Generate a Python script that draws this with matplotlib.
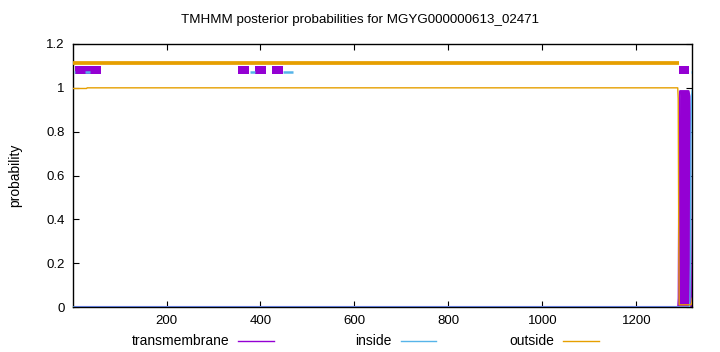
import matplotlib
matplotlib.use('Agg')
import matplotlib.pyplot as plt
from matplotlib.lines import Line2D
from matplotlib.patches import Rectangle
from matplotlib.ticker import FixedLocator, FuncFormatter

plt.rcParams['font.family'] = ['Liberation Sans', 'DejaVu Sans']

title = "TMHMM posterior probabilities for MGYG000000613_02471"
seq_len = 1319

# predicted topology (bars drawn above the curves)
tm_segments = [(6, 33), (33, 60), (353, 376), (389, 411), (425, 447), (1291, 1313)]
inside_segments = [(4, 6), (27, 38), (377, 388), (448, 469), (1316, 1319)]
outside_segments = [(1, 1290)]

# posterior probability curves
out_x = [1, 30, 31, 1288, 1289, 1290, 1291, 1316, 1318, 1319]
out_p = [0.997, 0.997, 1.0, 1.0, 0.95, 0.40, 0.01, 0.01, 0.02, 0.04]
tm_x = [1, 1289, 1290, 1291, 1292, 1293, 1311, 1313, 1314, 1315, 1316, 1319]
tm_p = [0.0, 0.0, 0.04, 0.55, 0.95, 0.985, 0.985, 0.96, 0.85, 0.35, 0.02, 0.0]
in_x = [1, 1313, 1314, 1315, 1316, 1317, 1319]
in_p = [0.0, 0.0, 0.03, 0.2, 0.75, 0.96, 0.99]

labels = ["transmembrane", "inside", "outside"]
colors = ["#9400d3", "#56b4e9", "#e69f00"]

fig = plt.figure(figsize=(7.2, 3.52), dpi=100)
ax = fig.add_axes([73 / 720, 45 / 352, (692.3 - 73) / 720, (307 - 44) / 352])

# posterior curves
ax.fill_between(tm_x, 0, tm_p, color=colors[0], lw=0, zorder=2)
ax.plot(tm_x, tm_p, color=colors[0], lw=1.5, zorder=2)
ax.plot(in_x, in_p, color=colors[1], lw=1, zorder=3)
ax.plot(out_x, out_p, color=colors[2], lw=1, zorder=4)

# topology bars
for a, b in tm_segments:
    ax.add_patch(Rectangle((a, 1.065), b - a, 0.036, facecolor=colors[0],
                           edgecolor='none', zorder=5))
for a, b in inside_segments:
    ax.plot([a, b], [1.071, 1.071], color=colors[1], lw=1.8, solid_capstyle='butt', zorder=6)
for a, b in outside_segments:
    ax.plot([a, b], [1.113, 1.113], color=colors[2], lw=2.7, solid_capstyle='butt', zorder=7)

ax.set_xlim(1, seq_len)
ax.set_ylim(0, 1.2)
ax.xaxis.set_major_locator(FixedLocator([200, 400, 600, 800, 1000, 1200]))
ax.yaxis.set_major_locator(FixedLocator([0, 0.2, 0.4, 0.6, 0.8, 1.0, 1.2]))
ax.yaxis.set_major_formatter(FuncFormatter(lambda v, p: '%g' % round(v, 1)))
ax.tick_params(direction='in', length=4, width=0.8, labelsize=9.5, top=True, right=True,
               colors='black', pad=6)
for s in ax.spines.values():
    s.set_linewidth(1)
    s.set_color('black')

ax.set_ylabel("probability", fontsize=10, labelpad=17)
fig.text(0.5, 1 - 20 / 352, title, ha='center', va='center', fontsize=9.6)

# legend below the plot
for i, (lab, col) in enumerate(zip(labels, colors)):
    xr = 229 + i * 162.5
    fig.text(xr / 720, 1 - 341 / 352, lab, ha='right', va='center', fontsize=10)
    fig.add_artist(Line2D([(xr + 9) / 720, (xr + 45) / 720], [1 - 341 / 352] * 2,
                          color=col, lw=1, transform=fig.transFigure))

fig.savefig("out.png", dpi=100)
